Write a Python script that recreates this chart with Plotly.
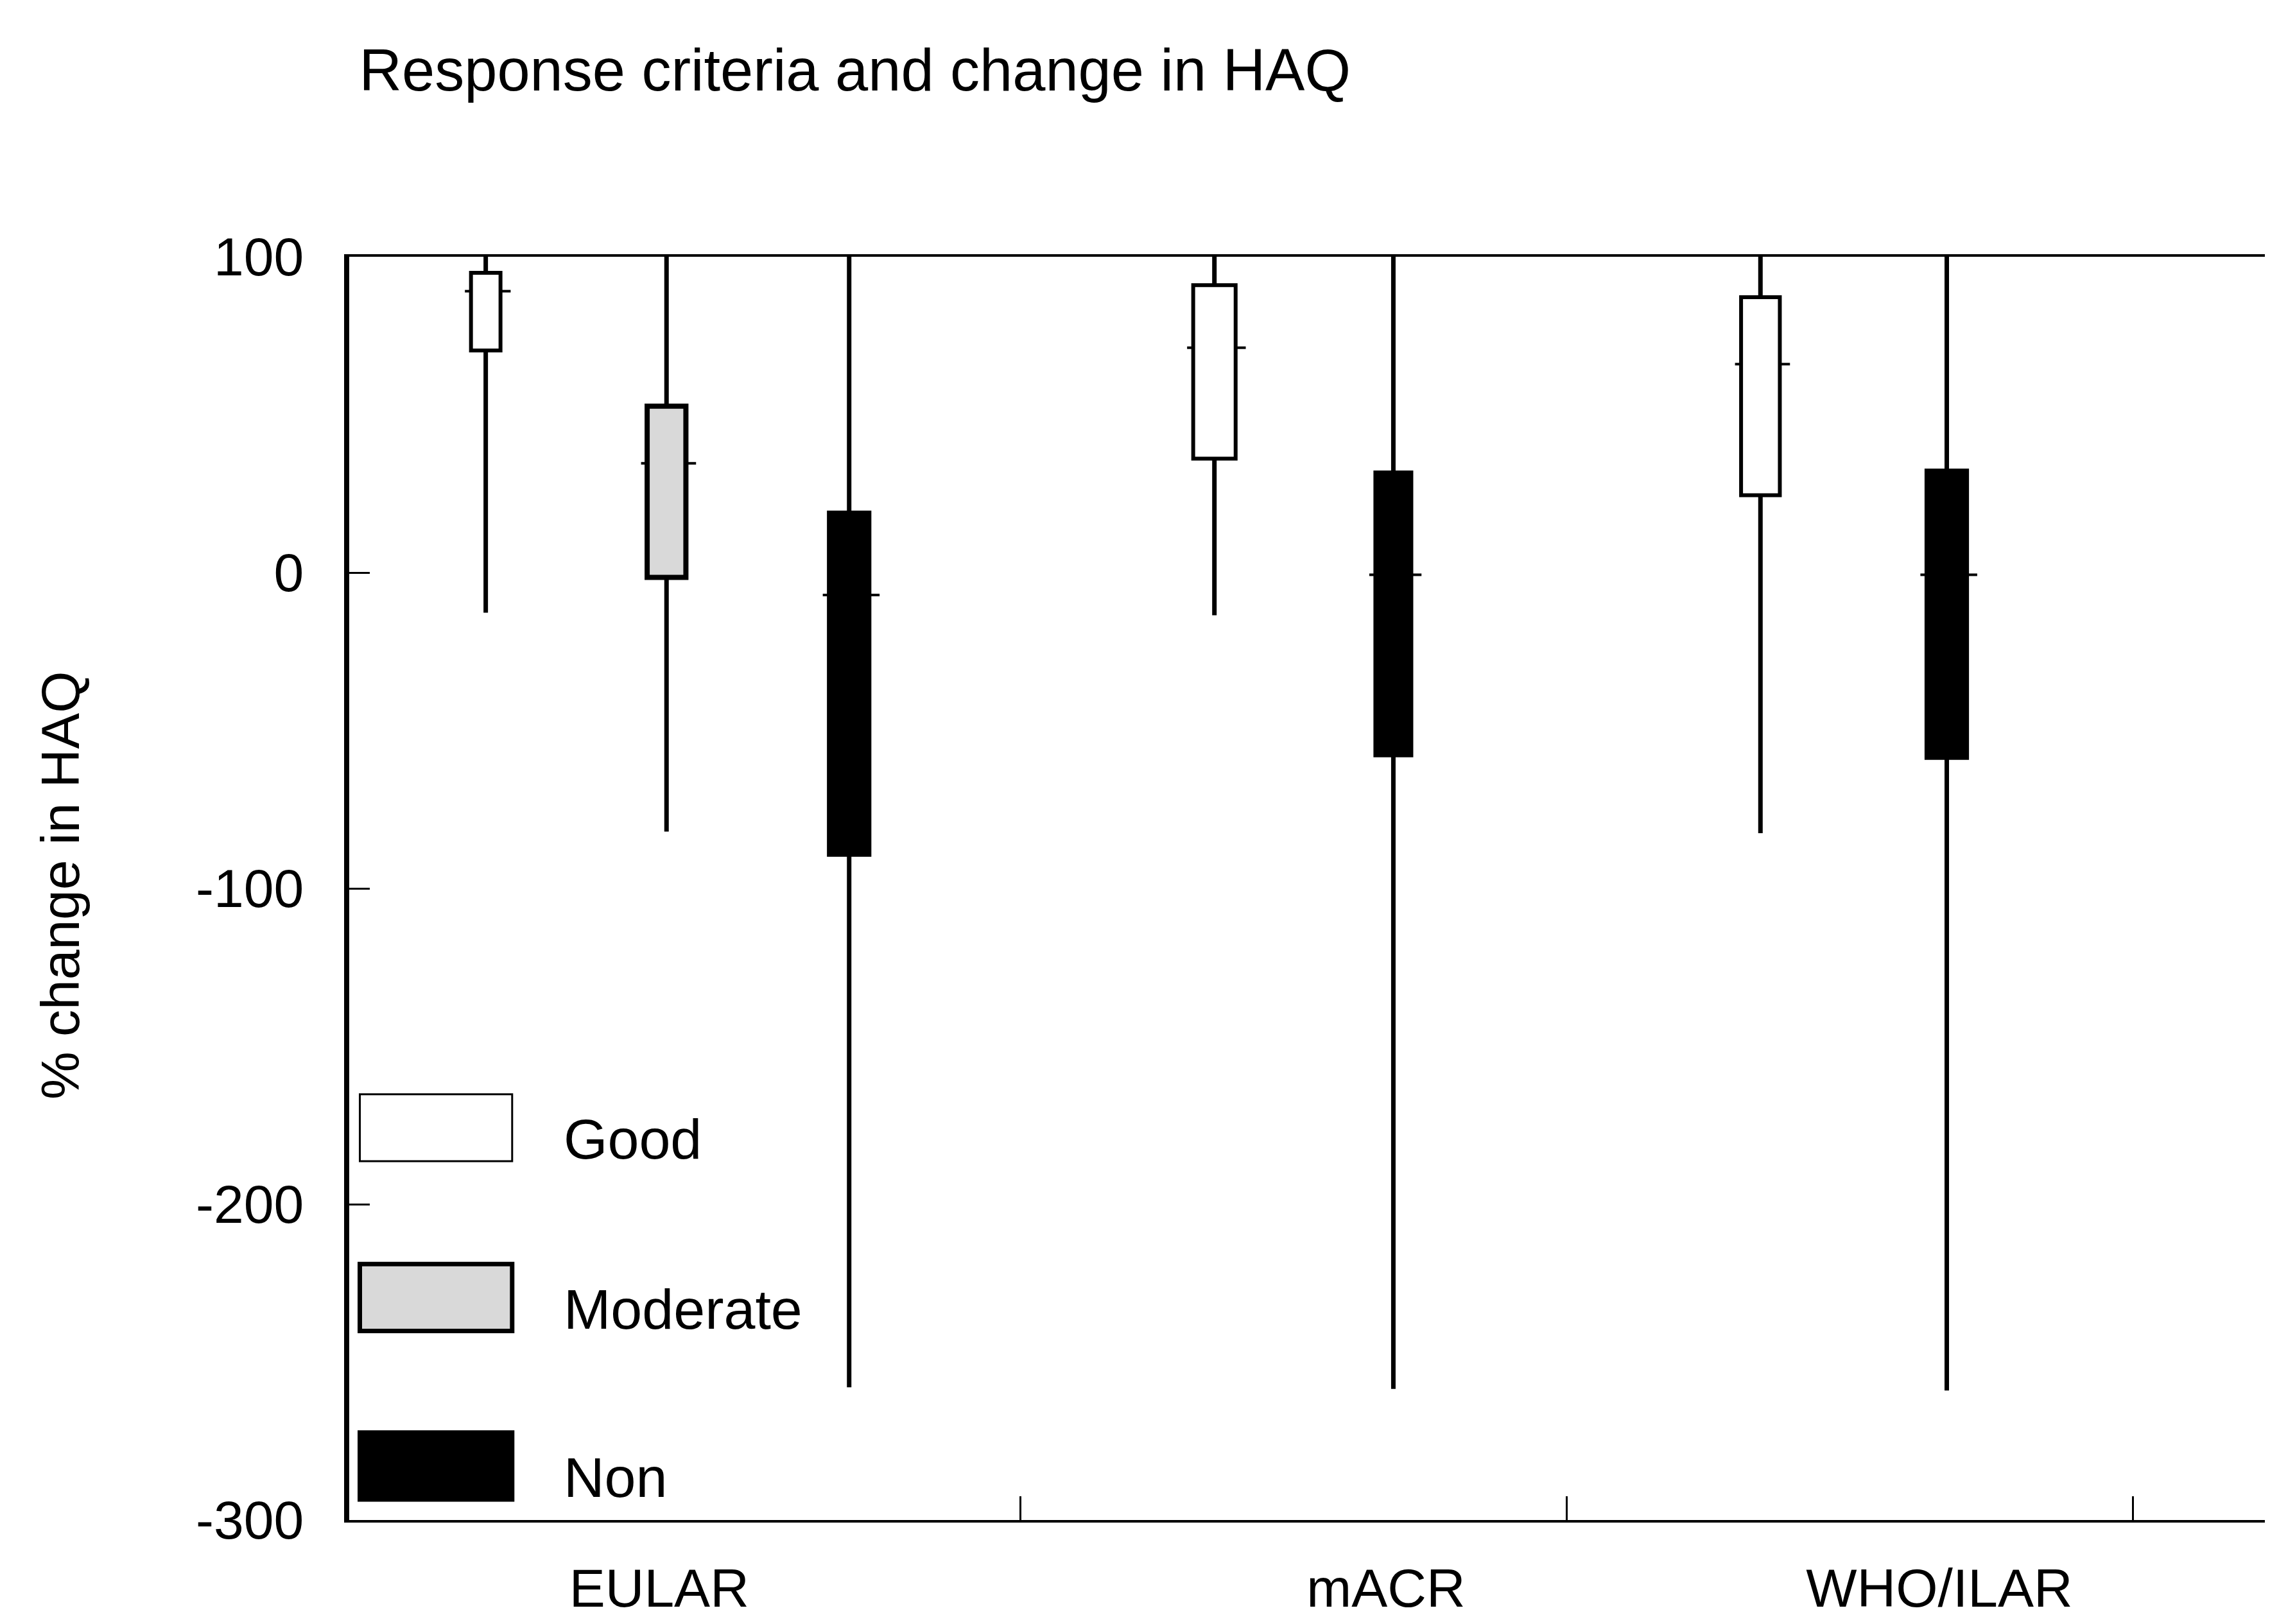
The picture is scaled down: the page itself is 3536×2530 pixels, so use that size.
import plotly.graph_objects as go

# ---------------- data ----------------
criteria = ["EULAR", "EULAR", "EULAR", "mACR", "mACR", "WHO/ILAR", "WHO/ILAR"]
response = ["Good", "Moderate", "Non", "Good", "Non", "Good", "Non"]
lower_whisker = [-12.7, -82.0, -258.0, -13.5, -258.5, -82.5, -259.0]
q1 = [70.3, -1.5, -89.4, 36.1, -57.9, 24.5, -58.7]
median = [89.1, 34.6, -7.1, 71.2, -0.7, 66.0, -0.7]
q3 = [94.9, 52.7, 19.0, 91.0, 31.7, 87.2, 32.3]
upper_whisker = [100.0, 100.0, 100.0, 100.0, 100.0, 100.0, 100.0]

group_labels = ["EULAR", "mACR", "WHO/ILAR"]
response_levels = ["Good", "Moderate", "Non"]
y_tick_vals = [100, 0, -100, -200, -300]
y_tick_text = ["100", "0", "-100", "-200", "-300"]

title_text = "Response criteria and change in HAQ"
y_title = "% change in HAQ"

# ---------------- layout helpers (positions / styles) ----------------
box_pos = [0.09, 1.07, 2.06, 4.04, 5.01, 7.00, 8.01]
box_width = [0.16, 0.21, 0.22, 0.23, 0.195, 0.21, 0.22]
group_label_pos = [1.03, 4.97, 7.97]
group_sep_pos = [2.99, 5.95, 9.02]

fill = {"Good": "#ffffff", "Moderate": "#d9d9d9", "Non": "#000000"}
outline_w = {"Good": 6, "Moderate": 8, "Non": 6}
FONT = "Liberation Sans, Arial, sans-serif"
tick_ext = 0.055

fig = go.Figure()

# boxes (bars from q1 to q3)
for lvl in response_levels:
    idx = [i for i, r in enumerate(response) if r == lvl]
    fig.add_trace(go.Bar(
        x=[box_pos[i] for i in idx],
        base=[q1[i] for i in idx],
        y=[q3[i] - q1[i] for i in idx],
        width=[box_width[i] for i in idx],
        marker=dict(color=fill[lvl], line=dict(color="black", width=outline_w[lvl])),
        name=lvl, showlegend=False, hoverinfo="skip",
    ))

# whiskers
wx, wy = [], []
for i in range(len(q1)):
    wx += [box_pos[i], box_pos[i], None, box_pos[i], box_pos[i], None]
    wy += [q3[i], upper_whisker[i], None, q1[i], lower_whisker[i], None]
fig.add_trace(go.Scatter(x=wx, y=wy, mode="lines", line=dict(color="black", width=7),
                         showlegend=False, hoverinfo="skip"))

# median ticks (outside the box, both sides)
mx, my = [], []
for i in range(len(median)):
    l = box_pos[i] - box_width[i] / 2
    r = box_pos[i] + box_width[i] / 2
    mx += [l - tick_ext * 0.6, l, None, r, r + tick_ext, None]
    my += [median[i], median[i], None, median[i], median[i], None]
fig.add_trace(go.Scatter(x=mx, y=my, mode="lines", line=dict(color="black", width=4),
                         showlegend=False, hoverinfo="skip"))

# ---------------- manual legend ----------------
shapes = []
annotations = []
leg_centers = [0.3105, 0.1761, 0.0427]
for lvl, yc in zip(response_levels, leg_centers):
    shapes.append(dict(type="rect", xref="paper", yref="paper",
                       x0=0.0055, x1=0.0846, y0=yc - 0.0265, y1=yc + 0.0265,
                       fillcolor=fill[lvl],
                       line=dict(color="black", width=3 if lvl == "Good" else 7)))
    annotations.append(dict(text=lvl, xref="paper", yref="paper", x=0.1105, y=yc - 0.009,
                            xanchor="left", yanchor="middle", showarrow=False,
                            font=dict(family=FONT, size=88, color="black")))

annotations.append(dict(text=y_title, xref="paper", yref="paper", x=-0.150, y=0.5025,
                        textangle=-90, showarrow=False, xanchor="center", yanchor="middle",
                        font=dict(family=FONT, size=84, color="black")))

fig.update_layout(
    width=3536, height=2530,
    margin=dict(l=536, r=0, t=392, b=170, autoexpand=False),
    paper_bgcolor="white", plot_bgcolor="white",
    barmode="overlay",
    title=dict(text=title_text, xref="container", yref="container", x=0.1560, y=0.960,
               xanchor="left", yanchor="middle",
               font=dict(family=FONT, size=92, color="black")),
    shapes=shapes, annotations=annotations,
    showlegend=False,
)

fig.update_xaxes(
    range=[-0.65, 9.79], showgrid=False, zeroline=False, automargin=False,
    showline=True, mirror=True, linecolor="black", linewidth=4,
    tickmode="array", tickvals=group_label_pos, ticktext=group_labels,
    ticks="", ticklabelstandoff=30,
    tickfont=dict(family=FONT, size=84, color="black"),
    minor=dict(tickmode="array", tickvals=group_sep_pos, ticks="inside",
               ticklen=37, tickwidth=3, tickcolor="black", showgrid=False),
)
fig.update_yaxes(
    range=[-300, 100], showgrid=False, zeroline=False, automargin=False,
    showline=True, mirror=False, linecolor="black", linewidth=8,
    tickmode="array", tickvals=y_tick_vals, ticktext=y_tick_text,
    ticks="inside", ticklen=32, tickwidth=3, tickcolor="black",
    ticklabelstandoff=46,
    tickfont=dict(family=FONT, size=84, color="black"),
)

fig.write_html("out.html")
